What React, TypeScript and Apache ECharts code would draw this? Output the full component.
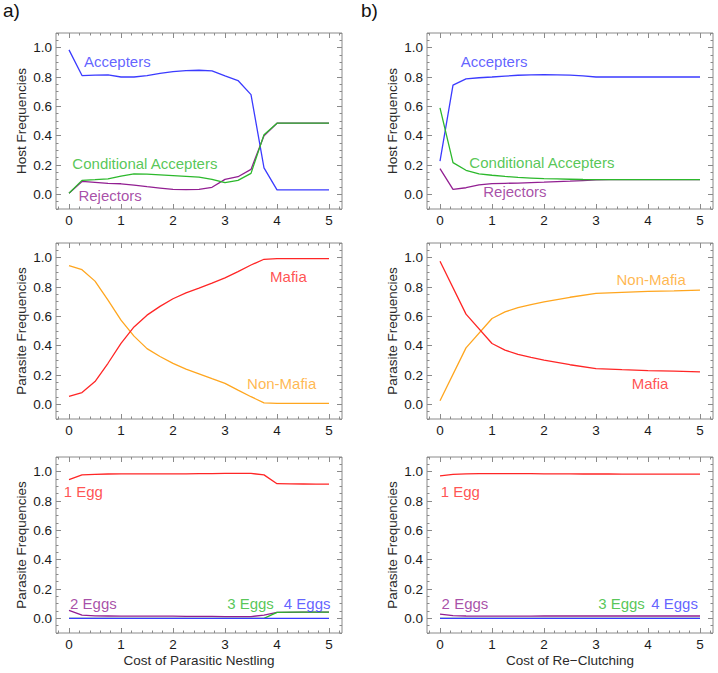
import React, { useEffect, useRef } from "react";
import * as echarts from "echarts";

// ---------- data ----------
const X_Q = [0, 0.25, 0.5, 0.75, 1, 1.25, 1.5, 1.75, 2, 2.25, 2.5, 2.75, 3, 3.25, 3.5, 3.75, 4, 4.25, 4.5, 4.75, 5];
const X_B2 = [0, 0.5, 1, 1.25, 1.5, 1.75, 2, 2.5, 3, 3.5, 4, 4.5, 5];

// a) host
const A_ACCEPTERS = [0.985, 0.81, 0.813, 0.815, 0.8, 0.8, 0.81, 0.825, 0.837, 0.843, 0.846, 0.842, 0.808, 0.776, 0.68, 0.18, 0.03, 0.03, 0.03, 0.03, 0.03];
const A_CONDITIONAL = [0.007, 0.095, 0.1, 0.106, 0.124, 0.14, 0.138, 0.133, 0.128, 0.123, 0.118, 0.102, 0.08, 0.095, 0.143, 0.407, 0.485, 0.485, 0.485, 0.485, 0.485];
const A_REJECTORS = [0.007, 0.088, 0.082, 0.075, 0.072, 0.063, 0.052, 0.043, 0.034, 0.032, 0.034, 0.048, 0.102, 0.12, 0.17, 0.4, 0.485, 0.485, 0.485, 0.485, 0.485];
// b) host
const B_ACCEPTERS = [0.227, 0.745, 0.787, 0.795, 0.8, 0.806, 0.812, 0.815, 0.816, 0.815, 0.813, 0.807, 0.8, 0.8, 0.8, 0.8, 0.8, 0.8, 0.8, 0.8, 0.8];
const B_CONDITIONAL = [0.59, 0.216, 0.164, 0.14, 0.13, 0.122, 0.115, 0.111, 0.107, 0.105, 0.103, 0.101, 0.1, 0.1, 0.1, 0.1, 0.1, 0.1, 0.1, 0.1, 0.1];
const B_REJECTORS = [0.175, 0.034, 0.045, 0.064, 0.073, 0.075, 0.077, 0.08, 0.083, 0.087, 0.09, 0.094, 0.098, 0.1, 0.1, 0.1, 0.1, 0.1, 0.1, 0.1, 0.1];
// a) parasite strategy
const A_MAFIA = [0.055, 0.08, 0.155, 0.28, 0.415, 0.528, 0.608, 0.668, 0.72, 0.76, 0.792, 0.826, 0.862, 0.905, 0.95, 0.989, 0.993, 0.994, 0.994, 0.994, 0.994];
const A_NONMAFIA = [0.945, 0.918, 0.84, 0.71, 0.574, 0.465, 0.38, 0.326, 0.279, 0.24, 0.208, 0.175, 0.143, 0.097, 0.052, 0.01, 0.007, 0.006, 0.006, 0.006, 0.006];
// b) parasite strategy
const B_MAFIA = [0.975, 0.615, 0.415, 0.37, 0.34, 0.32, 0.302, 0.27, 0.243, 0.236, 0.23, 0.226, 0.221];
const B_NONMAFIA = [0.025, 0.385, 0.585, 0.63, 0.66, 0.68, 0.698, 0.73, 0.757, 0.764, 0.77, 0.774, 0.779];
// a) clutch size
const A_EGG1 = [0.945, 0.978, 0.982, 0.984, 0.985, 0.985, 0.985, 0.985, 0.985, 0.985, 0.986, 0.987, 0.988, 0.988, 0.988, 0.978, 0.918, 0.917, 0.916, 0.915, 0.915];
const A_EGG2 = [0.055, 0.022, 0.017, 0.016, 0.015, 0.015, 0.015, 0.015, 0.015, 0.014, 0.014, 0.013, 0.012, 0.012, 0.012, 0.022, 0.041, 0.041, 0.042, 0.042, 0.042];
const A_EGG3 = [0, 0, 0, 0, 0, 0, 0, 0, 0, 0, 0, 0, 0, 0, 0, 0, 0.041, 0.042, 0.042, 0.043, 0.043];
const A_EGG4 = [0, 0, 0, 0, 0, 0, 0, 0, 0, 0, 0, 0, 0, 0, 0, 0, 0, 0, 0, 0, 0];
// b) clutch size
const B_EGG1 = [0.972, 0.982, 0.985, 0.986, 0.986, 0.986, 0.986, 0.986, 0.985, 0.985, 0.985, 0.984, 0.984, 0.984, 0.983, 0.983, 0.983, 0.983, 0.983, 0.983, 0.983];
const B_EGG2 = [0.028, 0.019, 0.016, 0.015, 0.015, 0.015, 0.015, 0.015, 0.016, 0.016, 0.016, 0.016, 0.016, 0.016, 0.016, 0.016, 0.016, 0.016, 0.016, 0.016, 0.016];
const B_EGG3 = [0, 0, 0, 0, 0, 0, 0, 0, 0, 0, 0, 0, 0, 0, 0, 0, 0, 0, 0, 0, 0];
const B_EGG4 = [0, 0, 0, 0, 0, 0, 0, 0, 0, 0, 0, 0, 0, 0, 0, 0, 0, 0, 0, 0, 0];

const X_TICKS = [0, 1, 2, 3, 4, 5];
const Y_TICKS = [0, 0.2, 0.4, 0.6, 0.8, 1.0];

// ---------- style ----------
const FONT = "'Liberation Sans', Arial, Helvetica, sans-serif";
const BLUE = "#3b3bff";
const GREEN = "#2cb82c";
const PURPLE = "#921f92";
const RED = "#ff2626";
const ORANGE = "#ffa61f";
const FRAME = "#8a8a8a";

const X_MINOR: number[] = [];
for (let k = -1; k <= 26; k++) if (k % 5 !== 0) X_MINOR.push(+(k * 0.2).toFixed(2));
const Y_MINOR: number[] = [];
for (let k = -2; k <= 22; k++) if (k % 4 !== 0) Y_MINOR.push(+(k * 0.05).toFixed(2));

type Line = { name: string; xs: number[]; ys: number[]; color: string };
type Note = { text: string; x: number; y: number; color: string };
type Panel = { left: number; top: number; yName: string; xName: string; lines: Line[]; notes: Note[] };

const PANELS: Panel[] = [
  {
    left: 56, top: 33, yName: "Host Frequencies", xName: "",
    lines: [
      { name: "Accepters", xs: X_Q, ys: A_ACCEPTERS, color: BLUE },
      { name: "Rejectors", xs: X_Q, ys: A_REJECTORS, color: PURPLE },
      { name: "Conditional Accepters", xs: X_Q, ys: A_CONDITIONAL, color: GREEN },
    ],
    notes: [
      { text: "Accepters", x: 0.93, y: 0.905, color: BLUE },
      { text: "Conditional Accepters", x: 1.46, y: 0.21, color: GREEN },
      { text: "Rejectors", x: 0.79, y: -0.01, color: PURPLE },
    ],
  },
  {
    left: 427, top: 33, yName: "Host Frequencies", xName: "",
    lines: [
      { name: "Accepters", xs: X_Q, ys: B_ACCEPTERS, color: BLUE },
      { name: "Rejectors", xs: X_Q, ys: B_REJECTORS, color: PURPLE },
      { name: "Conditional Accepters", xs: X_Q, ys: B_CONDITIONAL, color: GREEN },
    ],
    notes: [
      { text: "Accepters", x: 1.04, y: 0.905, color: BLUE },
      { text: "Conditional Accepters", x: 1.96, y: 0.215, color: GREEN },
      { text: "Rejectors", x: 1.44, y: 0.016, color: PURPLE },
    ],
  },
  {
    left: 56, top: 243, yName: "Parasite Frequencies", xName: "",
    lines: [
      { name: "Non-Mafia", xs: X_Q, ys: A_NONMAFIA, color: ORANGE },
      { name: "Mafia", xs: X_Q, ys: A_MAFIA, color: RED },
    ],
    notes: [
      { text: "Mafia", x: 4.22, y: 0.873, color: RED },
      { text: "Non-Mafia", x: 4.09, y: 0.143, color: ORANGE },
    ],
  },
  {
    left: 427, top: 243, yName: "Parasite Frequencies", xName: "",
    lines: [
      { name: "Non-Mafia", xs: X_B2, ys: B_NONMAFIA, color: ORANGE },
      { name: "Mafia", xs: X_B2, ys: B_MAFIA, color: RED },
    ],
    notes: [
      { text: "Non-Mafia", x: 4.06, y: 0.85, color: ORANGE },
      { text: "Mafia", x: 4.04, y: 0.143, color: RED },
    ],
  },
  {
    left: 56, top: 457, yName: "Parasite Frequencies", xName: "Cost of Parasitic Nestling",
    lines: [
      { name: "1 Egg", xs: X_Q, ys: A_EGG1, color: RED },
      { name: "2 Eggs", xs: X_Q, ys: A_EGG2, color: PURPLE },
      { name: "3 Eggs", xs: X_Q, ys: A_EGG3, color: GREEN },
      { name: "4 Eggs", xs: X_Q, ys: A_EGG4, color: BLUE },
    ],
    notes: [
      { text: "1 Egg", x: 0.275, y: 0.867, color: RED },
      { text: "2 Eggs", x: 0.47, y: 0.103, color: PURPLE },
      { text: "3 Eggs", x: 3.49, y: 0.103, color: GREEN },
      { text: "4 Eggs", x: 4.58, y: 0.103, color: BLUE },
    ],
  },
  {
    left: 427, top: 457, yName: "Parasite Frequencies", xName: "Cost of Re\u2212Clutching",
    lines: [
      { name: "1 Egg", xs: X_Q, ys: B_EGG1, color: RED },
      { name: "2 Eggs", xs: X_Q, ys: B_EGG2, color: PURPLE },
      { name: "3 Eggs", xs: X_Q, ys: B_EGG3, color: GREEN },
      { name: "4 Eggs", xs: X_Q, ys: B_EGG4, color: BLUE },
    ],
    notes: [
      { text: "1 Egg", x: 0.39, y: 0.867, color: RED },
      { text: "2 Eggs", x: 0.48, y: 0.103, color: PURPLE },
      { text: "3 Eggs", x: 3.49, y: 0.103, color: GREEN },
      { text: "4 Eggs", x: 4.51, y: 0.103, color: BLUE },
    ],
  },
];

const AXES_PER_GRID = 4;

function buildOption() {
  const grid: any[] = [];
  const xAxis: any[] = [];
  const yAxis: any[] = [];
  const series: any[] = [];

  PANELS.forEach((p, i) => {
    grid.push({
      left: p.left, top: p.top, width: 286, height: 176,
      show: true, borderColor: FRAME, borderWidth: 1, backgroundColor: "transparent",
    });
    const xBase = {
      gridIndex: i, type: "value", min: -0.25, max: 5.25,
      axisLine: { show: false, onZero: false }, splitLine: { show: false },
    };
    const yBase = {
      gridIndex: i, type: "value", min: -0.1, max: 1.1,
      axisLine: { show: false, onZero: false }, splitLine: { show: false },
    };
    const tickStyle = { color: FRAME, width: 1 };
    const sides: Array<["bottom" | "top", boolean]> = [["bottom", true], ["top", false]];
    sides.forEach(([pos, labels]) => {
      xAxis.push({
        ...xBase, position: pos,
        axisTick: { show: true, inside: true, length: 5, customValues: X_TICKS, lineStyle: tickStyle },
        axisLabel: labels
          ? { show: true, customValues: X_TICKS, margin: 4, fontSize: 13.5, color: "#1a1a1a", fontFamily: FONT, formatter: (v: number) => String(v) }
          : { show: false },
        name: labels ? p.xName : "",
        nameLocation: "middle", nameGap: 20,
        nameTextStyle: { fontSize: 13.5, color: "#2a2a2a", fontFamily: FONT },
      });
      xAxis.push({
        ...xBase, position: pos,
        axisTick: { show: true, inside: true, length: 2.5, customValues: X_MINOR, lineStyle: tickStyle },
        axisLabel: { show: false },
      });
    });
    const ySides: Array<["left" | "right", boolean]> = [["left", true], ["right", false]];
    ySides.forEach(([pos, labels]) => {
      yAxis.push({
        ...yBase, position: pos,
        axisTick: { show: true, inside: true, length: 5, customValues: Y_TICKS, lineStyle: tickStyle },
        axisLabel: labels
          ? { show: true, customValues: Y_TICKS, margin: 4, fontSize: 13.5, color: "#1a1a1a", fontFamily: FONT, formatter: (v: number) => v.toFixed(1) }
          : { show: false },
        name: labels ? p.yName : "",
        nameLocation: "middle", nameGap: 28, nameRotate: 90,
        nameTextStyle: { fontSize: 13.5, color: "#2a2a2a", fontFamily: FONT },
      });
      yAxis.push({
        ...yBase, position: pos,
        axisTick: { show: true, inside: true, length: 2.5, customValues: Y_MINOR, lineStyle: tickStyle },
        axisLabel: { show: false },
      });
    });

    const xi = i * AXES_PER_GRID;
    const yi = i * AXES_PER_GRID;
    p.lines.forEach((l) => {
      series.push({
        type: "line", name: l.name, xAxisIndex: xi, yAxisIndex: yi,
        data: l.xs.map((x, k) => [x, l.ys[k]]),
        showSymbol: false, symbol: "none",
        lineStyle: { color: l.color, width: 1.3 },
        itemStyle: { color: l.color },
        silent: true,
      });
    });
    series.push({
      type: "scatter", xAxisIndex: xi, yAxisIndex: yi, symbolSize: 0, silent: true, z: 10,
      itemStyle: { color: "transparent" },
      label: { show: true, position: "inside", fontSize: 15, fontFamily: FONT },
      data: p.notes.map((n) => ({
        value: [n.x, n.y],
        label: { formatter: n.text, color: n.color },
      })),
    });
  });

  return {
    animation: false,
    backgroundColor: "#ffffff",
    textStyle: { fontFamily: FONT },
    grid, xAxis, yAxis, series,
    graphic: [
      { type: "text", left: 3, top: 1, style: { text: "a)", fontSize: 19, fontFamily: FONT, fill: "#111" } },
      { type: "text", left: 361, top: 1, style: { text: "b)", fontSize: 19, fontFamily: FONT, fill: "#111" } },
    ],
  };
}

export default function App() {
  const ref = useRef<HTMLDivElement>(null);
  useEffect(() => {
    if (!ref.current) return;
    const chart = echarts.init(ref.current, undefined, { renderer: "svg" });
    chart.setOption(buildOption() as any);
    return () => chart.dispose();
  }, []);
  return (
    <div
      ref={ref}
      style={{ position: "absolute", left: 0, top: 0, width: 718, height: 673, background: "#fff" }}
    />
  );
}
